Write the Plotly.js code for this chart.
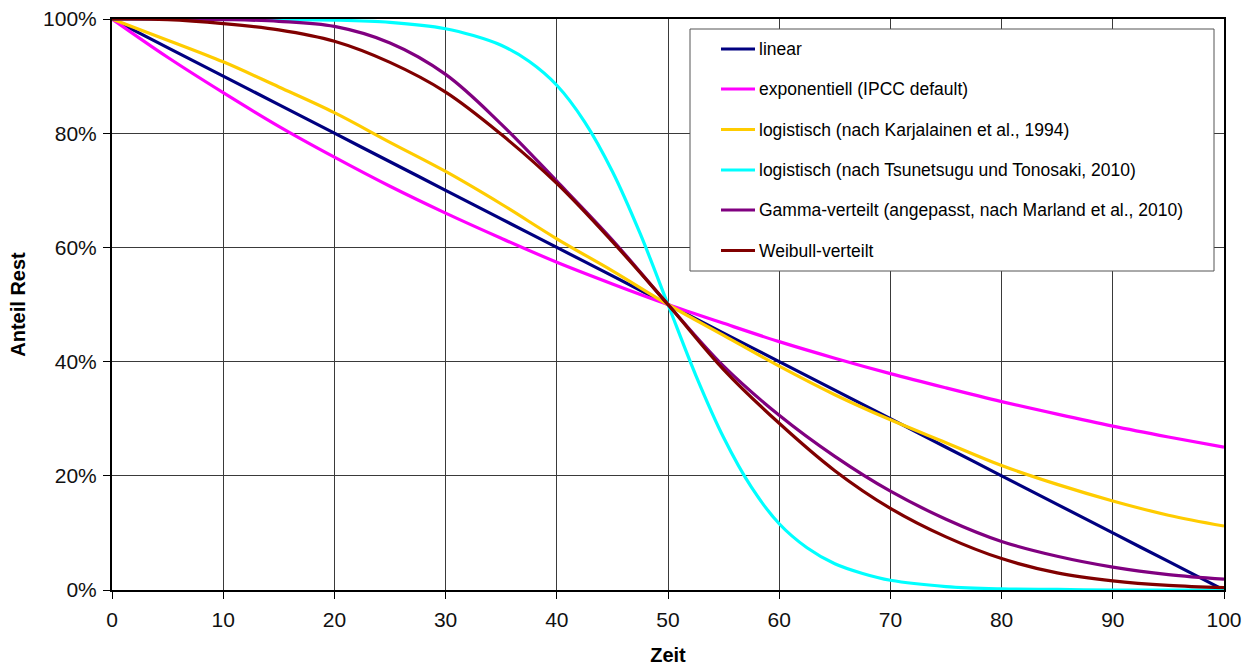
<!DOCTYPE html>
<html>
<head>
<meta charset="utf-8">
<script src="https://cdn.plot.ly/plotly-3.0.1.min.js"></script>
<style>html,body{margin:0;padding:0;background:#fff;}#chart{width:1255px;height:666px;}</style>
</head>
<body>
<div id="chart"></div>
<script>
// ---- data ----
const zeit = [0,5,10,15,20,25,30,35,40,45,50,55,60,65,70,75,80,85,90,95,100];
const linear = [100,95,90,85,80,75,70,65,60,55,50,45,40,35,30,25,20,15,10,5,0];
const exponentiell = [100,93.3,87.1,81.2,75.8,70.7,66.0,61.6,57.4,53.6,50,46.7,43.5,40.6,37.9,35.4,33.0,30.8,28.7,26.8,25.0];
const logKarjalainen = [100,96.3,92.5,88.1,83.6,78.4,73.3,67.6,61.5,55.9,50,44.6,39.2,34.2,29.8,25.8,21.8,18.5,15.6,13.1,11.2];
const zeitTsunetsugu = [0,5,10,15,20,25,30,32.5,35,37.5,40,42.5,45,47.5,50,52.5,55,57.5,60,62.5,65,67.5,70,75,80,85,90,95,100];
const logTsunetsugu = [100,100,100,99.9,99.8,99.4,98.3,97.1,95.4,92.6,88.4,82.0,73.3,62.4,50,37.6,26.7,18.0,11.6,7.4,4.6,2.9,1.7,0.6,0.2,0.1,0,0,0];
const gammaMarland = [100,100,99.9,99.6,98.7,95.8,90.3,81.6,71.6,61.3,50,39.2,30.6,23.4,17.3,12.4,8.5,5.9,4.0,2.7,1.9];
const weibull = [100,99.9,99.2,98.1,96.1,92.4,87.2,79.8,71.2,61.0,50,38.6,29.2,20.9,14.3,9.3,5.5,3.0,1.6,0.8,0.4];

const seriesNames = [
  "linear",
  "exponentiell (IPCC default)",
  "logistisch (nach Karjalainen et al., 1994)",
  "logistisch (nach Tsunetsugu und Tonosaki, 2010)",
  "Gamma-verteilt (angepasst, nach Marland et al., 2010)",
  "Weibull-verteilt"
];
const seriesColors = ["#000080","#FF00FF","#FFCC00","#00FFFF","#800080","#800000"];
const xTickVals = [0,10,20,30,40,50,60,70,80,90,100];
const yTickVals = [0,20,40,60,80,100];
const yTickText = ["0%","20%","40%","60%","80%","100%"];

// ---- layout geometry ----
const W = 1255, H = 666;
const M = {l:112, r:31, t:19, b:76};
const PW = W - M.l - M.r, PH = H - M.t - M.b;
const px2x = p => (p - M.l) / PW;
const px2y = p => (H - M.b - p) / PH;
const FONT = "Liberation Sans, Arial, sans-serif";

const xs = [zeit, zeit, zeit, zeitTsunetsugu, zeit, zeit];
const ys = [linear, exponentiell, logKarjalainen, logTsunetsugu, gammaMarland, weibull];

const traces = ys.map((y, i) => ({
  type: "scatter", mode: "lines",
  x: xs[i], y: y,
  name: seriesNames[i],
  line: {color: seriesColors[i], width: 3.2, shape: "spline", smoothing: 1},
  showlegend: false, hoverinfo: "skip"
}));

// manual legend (box, line samples, labels)
const shapes = [{
  type: "rect", xref: "paper", yref: "paper", layer: "above",
  x0: px2x(690), x1: px2x(1214), y0: px2y(271), y1: px2y(29),
  fillcolor: "#ffffff", line: {color: "#555555", width: 1}
}];
const annotations = [];
const rowY = [49, 89, 129.5, 170, 210, 250.5];
seriesNames.forEach((n, i) => {
  shapes.push({
    type: "line", xref: "paper", yref: "paper", layer: "above",
    x0: px2x(721), x1: px2x(755), y0: px2y(rowY[i]), y1: px2y(rowY[i]),
    line: {color: seriesColors[i], width: 3.2}
  });
  annotations.push({
    xref: "paper", yref: "paper", x: px2x(757), y: px2y(rowY[i]),
    xanchor: "left", yanchor: "middle", showarrow: false,
    text: n, font: {family: FONT, size: 17.5, color: "#000"}
  });
});

const axisCommon = {
  showline: true, linecolor: "#000", linewidth: 2, mirror: true,
  showgrid: true, gridcolor: "#3a3a3a", gridwidth: 1,
  zeroline: false, ticks: "outside", ticklen: 7, tickcolor: "#000", tickwidth: 1,
  tickfont: {family: FONT, size: 21, color: "#111"},
  fixedrange: true
};

const layout = {
  width: W, height: H,
  margin: M,
  paper_bgcolor: "#fff", plot_bgcolor: "#fff",
  showlegend: false,
  xaxis: Object.assign({}, axisCommon, {
    range: [0, 100], tickmode: "array", tickvals: xTickVals, ticklabelstandoff: 3,
    title: {text: "<b>Zeit</b>", font: {family: FONT, size: 20, color: "#000"}, standoff: 19}
  }),
  yaxis: Object.assign({}, axisCommon, {
    range: [0, 100], tickmode: "array", tickvals: yTickVals, ticktext: yTickText, ticklabelstandoff: 2,
    title: {text: "<b>Anteil Rest</b>", font: {family: FONT, size: 20, color: "#000"}, standoff: 12}
  }),
  shapes: shapes,
  annotations: annotations
};

Plotly.newPlot("chart", traces, layout, {displayModeBar: false, staticPlot: true});
</script>
</body>
</html>
